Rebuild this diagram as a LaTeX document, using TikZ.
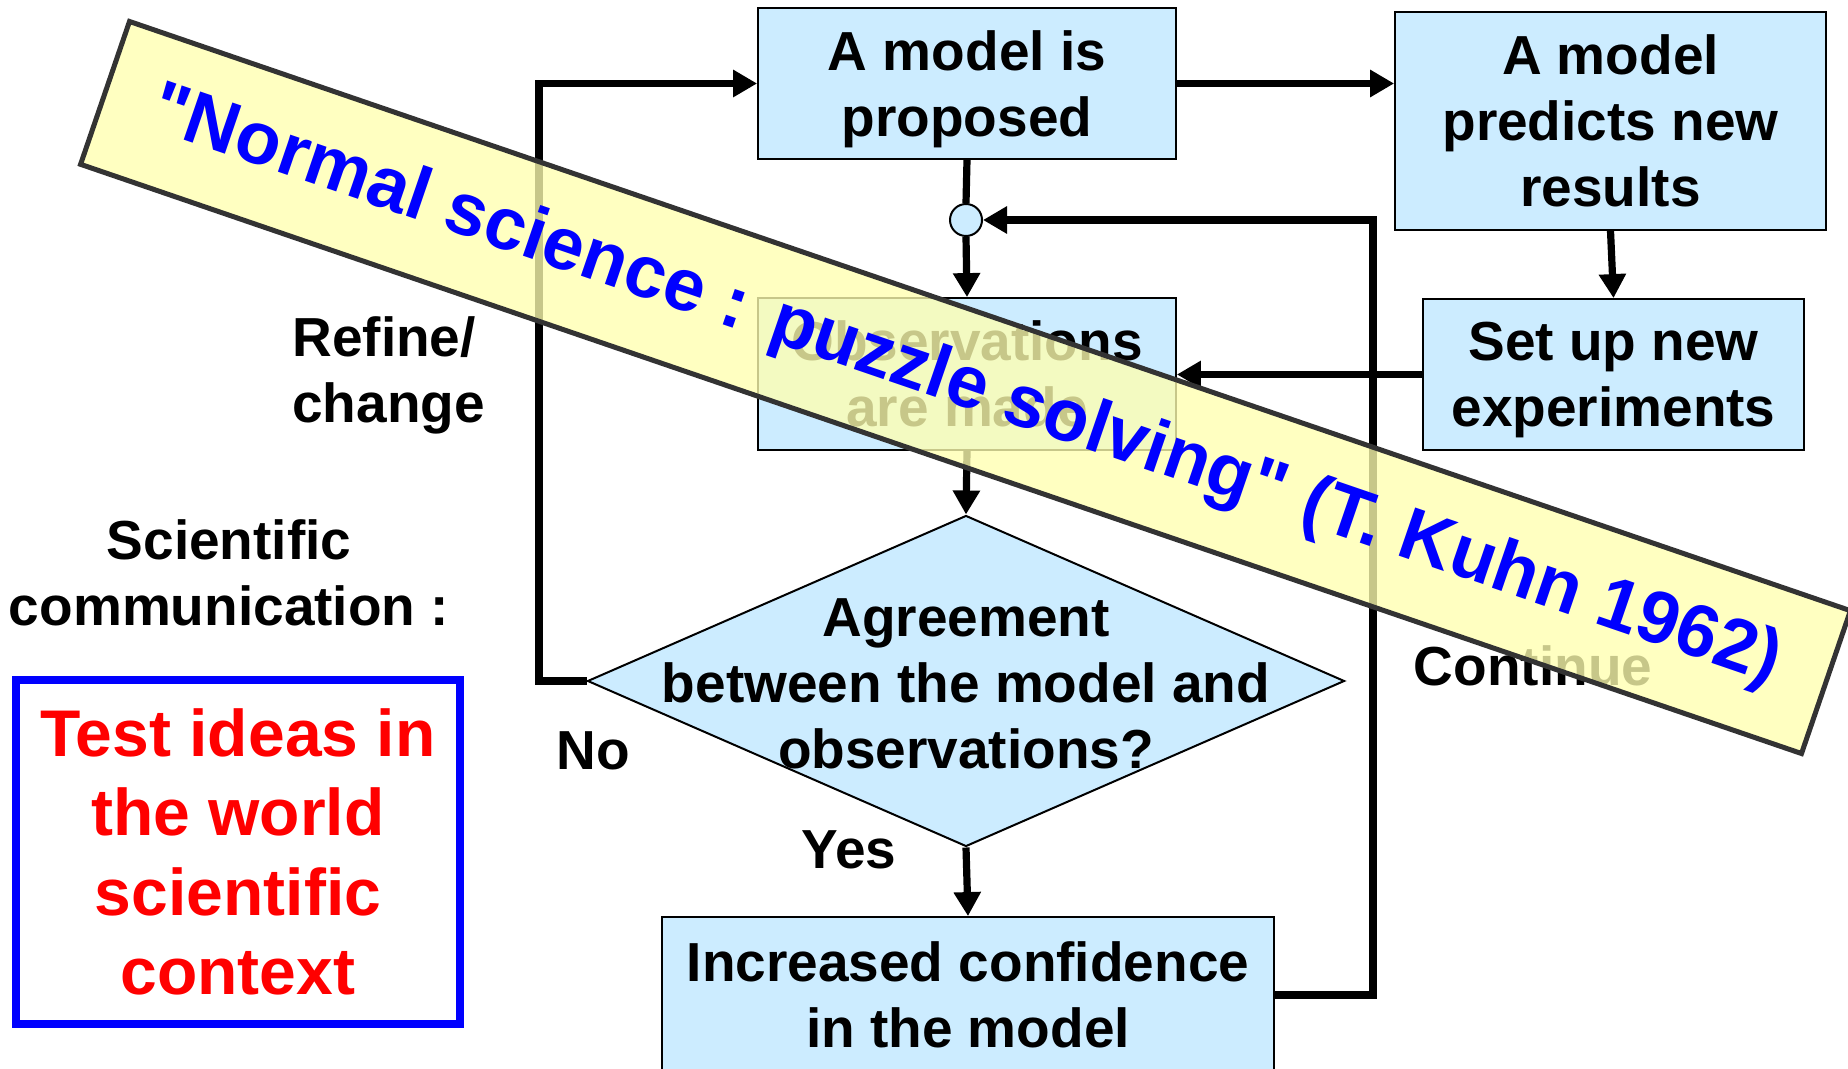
\documentclass[tikz,border=0pt]{standalone}
\usepackage{fontspec}
\setmainfont{Liberation Sans}
\usepackage{tikz}
\usetikzlibrary{shapes.geometric,arrows.meta}
\definecolor{boxblue}{RGB}{204,236,255}
\definecolor{noteyellow}{RGB}{255,255,176}
\definecolor{notegray}{RGB}{51,51,51}
\definecolor{kuhnblue}{RGB}{0,0,255}
\definecolor{testred}{RGB}{255,0,0}
\newcommand{\boxfont}{\fontsize{27.5}{33}\selectfont\bfseries}
\tikzstyle{flow}=[-{Triangle[length=12pt,width=13pt]},line width=3.6pt,draw=black]
\tikzstyle{box}=[rectangle,inner sep=0pt,draw,line width=0.9pt,fill=boxblue,align=center,font=\boxfont]
\tikzstyle{decision}=[diamond,inner sep=0pt,draw,line width=1pt,fill=boxblue,minimum width=378.5pt,minimum height=165.5pt]
\tikzstyle{junction}=[circle,inner sep=0pt,draw,line width=1pt,fill=boxblue,minimum size=16pt]
\tikzstyle{lbl}=[inner sep=0pt,align=center,font=\boxfont]
\tikzstyle{testbox}=[rectangle,inner sep=0pt,draw=kuhnblue,line width=4pt,text=testred,align=center,
  minimum width=222pt,minimum height=172pt,font=\fontsize{33}{39.8}\selectfont\bfseries]
\tikzstyle{banner}=[rectangle,inner sep=0pt,draw=notegray,line width=2.5pt,fill=noteyellow,fill opacity=0.78,
  text opacity=1,text=kuhnblue,rotate=-18.9,minimum width=909.5pt,minimum height=75.5pt,
  font=\fontsize{37}{44}\selectfont\bfseries]

\begin{document}
\begin{tikzpicture}[x=0.5pt,y=-0.5pt]
				\useasboundingbox (0,0) rectangle (1848,1069);

				%The main boxes
				\draw (967,83.5) node[box,minimum width=209pt,minimum height=75.5pt] (propose) {A model is\\\smash{proposed}};
				\draw (1610.5,121) node[box,minimum width=215.5pt,minimum height=109pt] (predict) {A model\\predicts new\\results};
				\draw (967,374) node[box,minimum width=209pt,minimum height=76pt] (observe) {Observations\\are made};
				\draw (1613.5,374.5) node[box,minimum width=190.5pt,minimum height=75.5pt] (setup) {Set up new\\\smash{experiments}};
				\draw (968,995) node[box,minimum width=306pt,minimum height=78pt] (confidence) {Increased confidence\\in the model};

				%The decision and its text
				\draw (966,681) node[decision] (agree) {};
				\draw (agree.center) node[lbl,yshift=-1.5pt] (agreetxt) {Agreement\\between the model and\\observations?};

				%The joining point
				\draw (966,220) node[junction] (join) {};
				\coordinate (nobend) at (539,681);
				\coordinate (backbend) at (1373,220);

				%The connectors
				\draw[flow] (propose.east) -- (propose.east -| predict.west);
				\draw[line width=3.6pt] (propose.south) -- (join.north);
				\draw[flow] (join.south) -- (observe.north);
				\draw[flow] (observe.south) -- (agree.north);
				\draw[flow] (agree.west) -- (nobend) |- (propose.west);
				\draw[flow] (agree.south) -- (confidence.north);
				\draw[flow] (predict.south) -- (setup.north);
				\draw[flow] (setup.west) -- (setup.west -| observe.east);
				\draw[flow] (confidence.east) -| (backbend) -- (join.east);

				%The labels
				\draw (292,375) node[lbl,anchor=west,align=left] (refine) {Refine/\\change};
				\draw (229,573) node[lbl] (comm) {Scientific\\communication :};
				\draw (593,751) node[lbl] (no) {No};
				\draw (849,850) node[lbl] (yes) {Yes};
				\draw (1533,666) node[lbl] (continue) {Continue};

				%The test box
				\draw (238,852) node[testbox] (test) {Test ideas in\\the world\\scientific\\context};

				%The banner on top
				\draw (965.5,387.5) node[banner] (kuhn) {\raisebox{-3pt}{\textquotedbl Normal science : puzzle solving\textquotedbl\ (T. Kuhn 1962)}};
			\end{tikzpicture}
\end{document}
